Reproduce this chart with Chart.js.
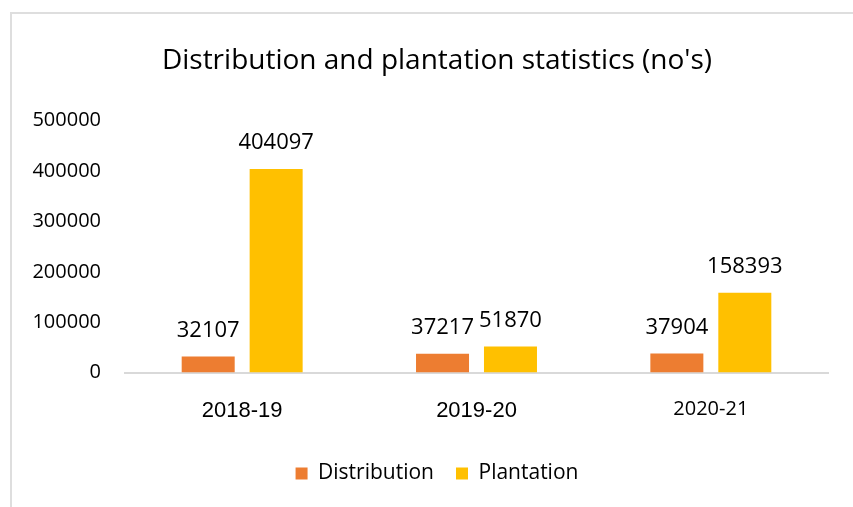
<!DOCTYPE html>
<html>
<head>
<meta charset="utf-8">
<script src="https://cdn.jsdelivr.net/npm/chart.js@4"></script>
<style>
  body { margin: 0; background: #fff; }
  #frame {
    position: absolute; left: 10px; top: 12px; width: 900px; height: 520px;
    border: 2px solid #dedede;
  }
  #myChart { position: absolute; left: 0; top: 0; }
</style>
</head>
<body>
<div id="frame"></div>
<canvas id="myChart" width="853" height="507"></canvas>
<script>
// Chart data
const years = ["2018-19", "2019-20", "2020-21"];
const distribution = [32107, 37217, 37904];
const plantation = [404097, 51870, 158393];
const yTicks = [0, 100000, 200000, 300000, 400000, 500000];

const FONT = "'Open Sans', sans-serif";

// writes the value above each bar
const valueLabels = {
  id: "valueLabels",
  afterDatasetsDraw(chart) {
    const ctx = chart.ctx;
    ctx.save();
    ctx.font = "22px " + FONT;
    ctx.fillStyle = "#000";
    ctx.textAlign = "center";
    ctx.textBaseline = "bottom";
    chart.data.datasets.forEach((ds, i) => {
      chart.getDatasetMeta(i).data.forEach((bar, j) => {
        ctx.fillText(ds.data[j], bar.x, bar.y - 15);
      });
    });
    ctx.restore();
  }
};

new Chart("myChart", {
  type: "bar",
  data: {
    labels: years,
    datasets: [
      {
        label: "Distribution",
        data: distribution,
        backgroundColor: "#ED7D31",
        categoryPercentage: 0.58,
        barPercentage: 0.78
      },
      {
        label: "Plantation",
        data: plantation,
        backgroundColor: "#FFC000",
        categoryPercentage: 0.58,
        barPercentage: 0.78
      }
    ]
  },
  options: {
    responsive: false,
    animation: false,
    layout: { padding: { left: 21, right: 0, top: 0, bottom: 13 } },
    plugins: {
      title: {
        display: true,
        text: "Distribution and plantation statistics (no's)",
        color: "#000",
        font: { family: FONT, size: 28, weight: "normal" },
        padding: { top: 44, bottom: 43 }
      },
      legend: {
        position: "bottom",
        labels: {
          color: "#000",
          font: { family: FONT, size: 21 },
          boxWidth: 12,
          boxHeight: 12,
          padding: 22
        }
      },
      tooltip: { enabled: false }
    },
    scales: {
      x: {
        grid: { display: false },
        border: { color: "#d9d9d9", width: 2 },
        ticks: {
          color: "#000",
          padding: 17,
          font: (c) => c.index === 2
            ? { family: FONT, size: 20 }
            : { family: "'Liberation Sans', Arial, sans-serif", size: 22 }
        }
      },
      y: {
        min: 0,
        max: 500000,
        afterFit: (s) => { s.width = 104; },
        afterBuildTicks: (s) => { s.ticks = yTicks.map(v => ({ value: v })); },
        grid: { display: false },
        border: { display: false },
        ticks: {
          color: "#000",
          padding: 16,
          font: { family: FONT, size: 20 },
          callback: (v) => String(v)
        }
      },
      // empty right-hand margin beside the plot
      yRight: {
        position: "right",
        min: 0,
        max: 500000,
        afterFit: (s) => { s.width = 25; },
        grid: { display: false },
        border: { display: false },
        ticks: { display: false }
      }
    }
  },
  plugins: [valueLabels]
});
</script>
</body>
</html>
